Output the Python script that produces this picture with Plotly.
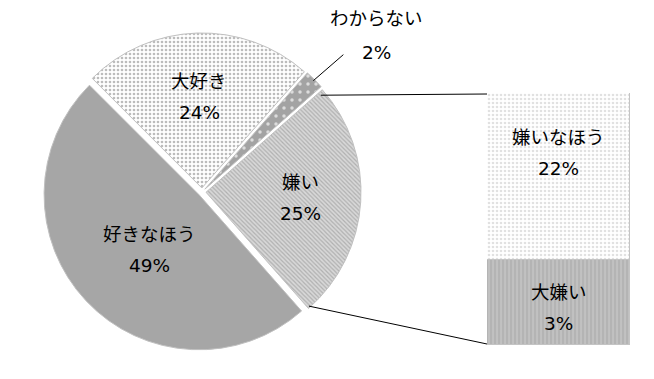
import math
import plotly.graph_objects as go

# ---------------- data ----------------
pie_labels = ["大好き", "わからない", "嫌い", "好きなほう"]
pie_values = [24, 2, 25, 49]
bar_labels = ["大嫌い", "嫌いなほう"]          # bottom -> top
bar_values = [3, 22]                          # shown percentages
bar_heights = [8.4, 16.6]                     # segment heights as drawn

# ---------------- geometry / style ----------------
WIN_W, WIN_H = 654, 379
OFF = 8                      # default page body margin
W, H = WIN_W - OFF, WIN_H - OFF
CX, CY, R = 202, 192, 155    # window pixel coordinates
PULL = 0.026
ROT = -45
FONT = "DejaVu Sans, Noto Sans CJK JP"
FS = 18.5

def paper(px, py):
    return (px - OFF) / W, 1 - (py - OFF) / H

half = R * (1 + PULL)
x0p, y1p = paper(CX - half, CY - half)
x1p, y0p = paper(CX + half, CY + half)
dom_x = [x0p, x1p]
dom_y = [y0p, y1p]

total = sum(pie_values)
starts, mids, ends = [], [], []
a = ROT
for v in pie_values:
    span = 360 * v / total
    starts.append(a); mids.append(a + span / 2); ends.append(a + span)
    a += span

def pie_pt(i, theta, r):
    m = math.radians(mids[i])
    ox, oy = PULL * R * math.sin(m), -PULL * R * math.cos(m)
    t = math.radians(theta)
    return CX + ox + r * math.sin(t), CY + oy - r * math.cos(t)

fig = go.Figure()
fig.add_trace(go.Pie(
    labels=pie_labels, values=pie_values, sort=False, direction="clockwise",
    rotation=ROT, pull=[PULL] * 4, textinfo="none", hoverinfo="label+percent",
    domain=dict(x=dom_x, y=dom_y), showlegend=False,
    marker=dict(
        colors=["#ffffff", "#a3a3a3", "#d0d0d0", "#a6a6a6"],
        line=dict(color="#c0c0c0", width=1),
        pattern=dict(
            shape=[".", ".", "\\", ""],
            fgcolor=["#bcbcbc", "#dcdcdc", "#b0b0b0", "#a6a6a6"],
            bgcolor=["#ffffff", "#a3a3a3", "#d8d8d8", "#a6a6a6"],
            size=[4, 8, 3, 6],
            solidity=[0.35, 0.15, 0.4, 0.3],
        ),
    ),
))

# bar of pie (window pixel coords)
BX0, BX1, BY0, BY1 = 487, 630, 93, 345
bar_colors_bg = ["#b4b4b4", "#ffffff"]
bar_colors_fg = ["#d8d8d8", "#c4c4c4"]
bar_shapes = ["|", "."]
bar_sizes = [4, 4]
for i, (lab, h) in enumerate(zip(bar_labels, bar_heights)):
    fig.add_trace(go.Bar(
        x=[0], y=[h], width=1, xaxis="x2", yaxis="y2", showlegend=False,
        name=lab, hoverinfo="name",
        marker=dict(color=bar_colors_bg[i], line=dict(color="#c4c4c4", width=1),
                    pattern=dict(shape=bar_shapes[i], fgcolor=bar_colors_fg[i],
                                 bgcolor=bar_colors_bg[i], size=bar_sizes[i],
                                 solidity=0.35)),
    ))

ann = []
def add_pair(x, y, t1, t2, xref="paper", yref="paper", ysh=0, gap=15.5):
    for txt, dy in ((t1, gap), (t2, -gap)):
        ann.append(dict(x=x, y=y, xref=xref, yref=yref, text=txt, showarrow=False,
                        yshift=dy + ysh, font=dict(family=FONT, size=FS, color="#000"),
                        xanchor="center", yanchor="middle"))

label_r = [0.59, None, 0.61, 0.52]
for i, (lab, v) in enumerate(zip(pie_labels, pie_values)):
    if label_r[i] is None:
        continue
    px, py = pie_pt(i, mids[i], label_r[i] * R)
    if i == 3:
        px += 9
    x, y = paper(px, py)
    add_pair(x, y, lab, f"{v}%")

# small slice: outside label with leader
i = 1
sx, sy = pie_pt(i, mids[i], R * 0.99)
ex, ey = sx + 30, sy - 26
sp, ep = paper(sx, sy), paper(ex, ey)
shapes = [dict(type="line", xref="paper", yref="paper",
               x0=sp[0], y0=sp[1], x1=ep[0], y1=ep[1],
               line=dict(color="#000", width=1))]
x, y = paper(ex + 33, ey - 19)
add_pair(x, y, pie_labels[i], f"{pie_values[i]}%", gap=17)

# connectors from 嫌い slice to bar
j = 2
tx, ty = pie_pt(j, starts[j] + 1.2, R * 0.97)
bx, by = pie_pt(j, ends[j] - 0.7, R * 0.99)
for (p1, p2) in (((tx, ty), (BX0, BY0 + 1)), ((bx, by), (BX0, BY1 - 1))):
    a1, a2 = paper(*p1), paper(*p2)
    shapes.append(dict(type="line", xref="paper", yref="paper",
                       x0=a1[0], y0=a1[1], x1=a2[0], y1=a2[1],
                       line=dict(color="#000", width=1)))

# bar labels
bar_label_shift = [-5.5, 23.5]
base = 0
for i, (lab, v, h) in enumerate(zip(bar_labels, bar_values, bar_heights)):
    add_pair(0, base + h / 2, lab, f"{v}%", xref="x2", yref="y2", ysh=bar_label_shift[i])
    base += h

bx0p, by1p = paper(BX0, BY0)
bx1p, by0p = paper(BX1, BY1)
fig.update_layout(
    width=W, height=H, margin=dict(l=0, r=0, t=0, b=0),
    paper_bgcolor="white", plot_bgcolor="rgba(0,0,0,0)",
    barmode="stack", bargap=0,
    xaxis2=dict(domain=[bx0p, bx1p], range=[-0.5, 0.5], visible=False, anchor="y2"),
    yaxis2=dict(domain=[by0p, by1p], range=[0, sum(bar_heights)],
                visible=False, anchor="x2"),
    xaxis=dict(visible=False), yaxis=dict(visible=False),
    annotations=ann, shapes=shapes,
)

fig.write_html("out.html")
